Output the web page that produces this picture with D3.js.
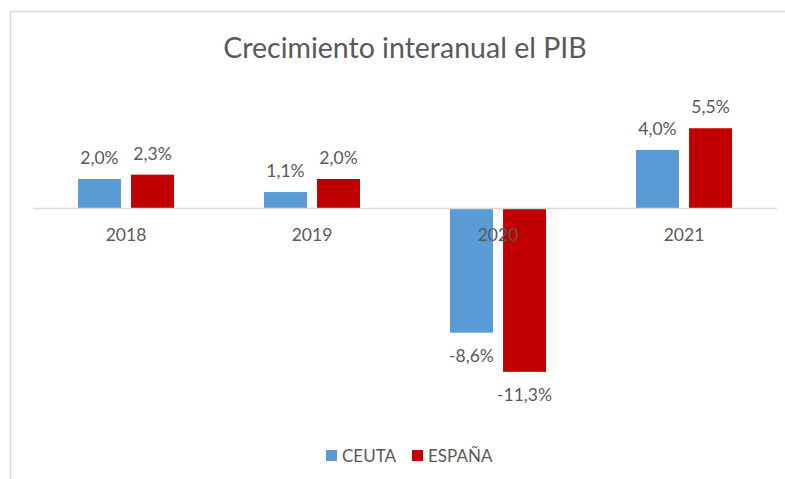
<!DOCTYPE html>
<html>
<head>
<meta charset="utf-8">
<script src="https://cdn.jsdelivr.net/npm/d3@7"></script>
<style>
  body { margin: 0; background: #fff; }
  text { font-family: Lato, "Open Sans", sans-serif; fill: #595959; }
</style>
</head>
<body>
<div id="chart"></div>
<script>
const years = ["2018", "2019", "2020", "2021"];
const seriesNames = ["CEUTA", "ESPAÑA"];
const ceuta = [2.0, 1.1, -8.6, 4.0];
const espana = [2.3, 2.0, -11.3, 5.5];
const colors = ["#5b9bd5", "#c00000"];
const title = "Crecimiento interanual el PIB";

const width = 785;
const height = 479;

const svg = d3.select("#chart")
  .append("svg")
  .attr("width", width)
  .attr("height", height);

// chart frame (only top and left edges show)
svg.append("path")
  .attr("d", "M10.5,479 V11.5 H785")
  .attr("fill", "none")
  .attr("stroke", "#d9d9d9")
  .attr("stroke-width", 1.5);

svg.append("text")
  .attr("x", 405)
  .attr("y", 58)
  .attr("text-anchor", "middle")
  .attr("font-size", 28.5)
  .text(title);

const x0 = d3.scaleBand()
  .domain(years)
  .range([33, 777]);

const x1 = d3.scaleBand()
  .domain(seriesNames)
  .range([x0.bandwidth() / 2 - 48, x0.bandwidth() / 2 + 48])
  .paddingInner(0.19);

const y = d3.scaleLinear()
  .domain([-14, 8])
  .range([411, 92]);

const rows = years.map((yr, i) => ({
  year: yr,
  values: [
    { name: seriesNames[0], value: ceuta[i] },
    { name: seriesNames[1], value: espana[i] }
  ]
}));

const color = d3.scaleOrdinal().domain(seriesNames).range(colors);
const fmt = v => d3.format(".1f")(v).replace(".", ",").replace("\u2212", "-") + "%";

const groups = svg.selectAll("g.year")
  .data(rows)
  .enter()
  .append("g")
  .attr("class", "year")
  .attr("transform", d => `translate(${x0(d.year)},0)`);

groups.selectAll("rect")
  .data(d => d.values)
  .enter()
  .append("rect")
  .attr("x", d => x1(d.name))
  .attr("y", d => y(Math.max(0, d.value)))
  .attr("width", x1.bandwidth())
  .attr("height", d => Math.abs(y(d.value) - y(0)))
  .attr("fill", d => color(d.name));

groups.selectAll("text.val")
  .data(d => d.values)
  .enter()
  .append("text")
  .attr("class", "val")
  .attr("x", d => x1(d.name) + x1.bandwidth() / 2)
  .attr("y", d => d.value >= 0 ? y(d.value) - 15 : y(d.value) + 29)
  .attr("text-anchor", "middle")
  .attr("font-size", 17.5)
  .text(d => fmt(d.value));

// zero line
svg.append("line")
  .attr("x1", 33)
  .attr("x2", 777)
  .attr("y1", y(0) + 0.5)
  .attr("y2", y(0) + 0.5)
  .attr("stroke", "#d9d9d9")
  .attr("stroke-width", 1.5);

// category labels, drawn over the bars
const xAxis = d3.axisBottom(x0).tickSize(0).tickPadding(0);
const axisG = svg.append("g")
  .attr("transform", `translate(0,${y(0)})`)
  .call(xAxis);
axisG.select(".domain").remove();
axisG.selectAll("text")
  .attr("dy", null)
  .attr("y", 33)
  .attr("font-size", 17.5)
  .attr("font-family", null)
  .attr("fill", "#595959");

// legend
const legend = svg.append("g")
  .attr("transform", "translate(0,462)");

const legendX = [326, 412];
seriesNames.forEach((name, i) => {
  legend.append("rect")
    .attr("x", legendX[i])
    .attr("y", -12)
    .attr("width", 11)
    .attr("height", 11)
    .attr("fill", colors[i]);
  legend.append("text")
    .attr("x", legendX[i] + 16)
    .attr("y", 0)
    .attr("font-size", 17)
    .text(name);
});
</script>
</body>
</html>
